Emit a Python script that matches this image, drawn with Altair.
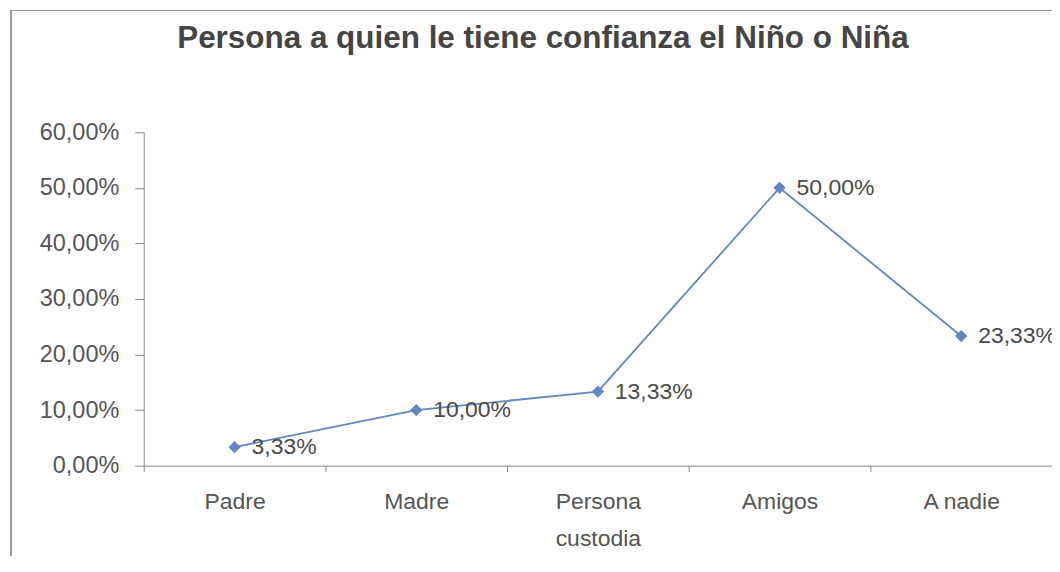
import altair as alt
import pandas as pd

categories = ["Padre", "Madre", "Persona custodia", "Amigos", "A nadie"]
values = [3.33, 10.00, 13.33, 50.00, 23.33]

title_text = "Persona a quien le tiene confianza el Niño o Niña"

df = pd.DataFrame({"cat": categories, "val": values})

FONT = "Liberation Sans"
LINE = "#6487c2"
GRAY = "#555555"

x_enc = alt.X(
    "cat:N",
    sort=categories,
    scale=alt.Scale(paddingInner=0, paddingOuter=0),
    axis=alt.Axis(
        title=None,
        labelAngle=0,
        tickBand="extent",
        tickSize=6,
        labelPadding=19,
        labelFontSize=23,
        labelColor=GRAY,
        labelFont=FONT,
        labelLineHeight=37,
        domainColor="#8a8a8a",
        tickColor="#8a8a8a",
        labelExpr="datum.label == 'Persona custodia' ? ['Persona', 'custodia'] : datum.label",
    ),
)
y_enc = alt.Y(
    "val:Q",
    scale=alt.Scale(domain=[0, 60], nice=False),
    axis=alt.Axis(
        title=None,
        values=[0, 10, 20, 30, 40, 50, 60],
        grid=False,
        tickSize=9,
        labelPadding=16,
        labelFontSize=23.5,
        labelColor=GRAY,
        labelFont=FONT,
        domainColor="#8a8a8a",
        tickColor="#8a8a8a",
        labelExpr="replace(format(datum.value, '.2f'), '.', ',') + '%'",
    ),
)

frame = alt.Chart(df).mark_rect(
    fill=None, stroke="#9a9a9a", strokeWidth=1.2, clip=False
).encode(
    x=alt.value(-133), x2=alt.value(915), y=alt.value(-122), y2=alt.value(460)
)

line = alt.Chart(df).mark_line(color=LINE, strokeWidth=1.8).encode(x=x_enc, y=y_enc)
pts = alt.Chart(df).mark_point(
    shape="diamond", filled=True, color=LINE, size=150, opacity=1
).encode(x=x_enc, y=y_enc)
labels = alt.Chart(df).transform_calculate(
    lab="replace(format(datum.val, '.2f'), '.', ',') + '%'"
).mark_text(
    align="left", baseline="middle", dx=17, dy=0, fontSize=23, font=FONT, color="#4a4a4a"
).encode(x=x_enc, y=y_enc, text="lab:N")

chart = alt.layer(frame, line, pts, labels).properties(
    width=910,
    height=334,
    autosize=alt.AutoSizeParams(type="none"),
    padding={"left": 136, "top": 124, "right": 0, "bottom": 90},
    title=alt.TitleParams(
        title_text,
        font=FONT,
        fontSize=31.5,
        fontWeight="bold",
        color="#454545",
        anchor="middle",
        frame="group",
        baseline="alphabetic",
        dx=-55,
        offset=-70,
    ),
).configure_view(stroke=None)

chart.save("out.html", embed_options={"renderer": "svg", "actions": False})
